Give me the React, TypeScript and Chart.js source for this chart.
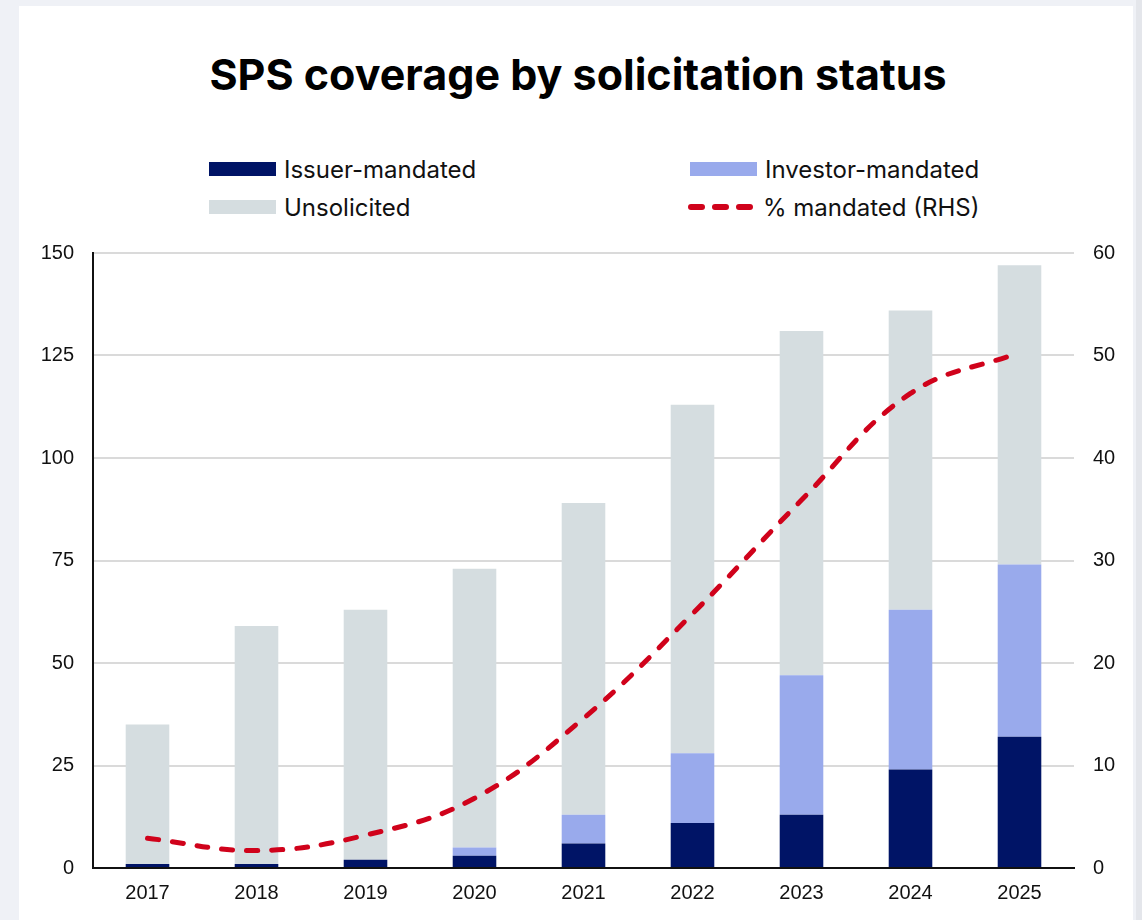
import React, { useEffect, useRef } from "react";
import { Chart, registerables } from "chart.js";

Chart.register(...registerables);

const years = ["2017", "2018", "2019", "2020", "2021", "2022", "2023", "2024", "2025"];
const issuerMandated = [1, 1, 2, 3, 6, 11, 13, 24, 32];
const investorMandated = [0, 0, 0, 2, 7, 17, 34, 39, 42];
const unsolicited = [34, 58, 61, 68, 76, 85, 84, 73, 73];
const pctMandated = [2.9, 1.7, 3.2, 6.8, 14.6, 24.8, 35.9, 46.3, 50.3];

const leftAxis = { min: 0, max: 150, step: 25 };
const rightAxis = { min: 0, max: 60, step: 10 };

const titleText = "SPS coverage by solicitation status";
const labels = {
  issuer: "Issuer-mandated",
  investor: "Investor-mandated",
  unsolicited: "Unsolicited",
  pct: "% mandated (RHS)",
};

const COLORS = {
  issuer: "#001466",
  investor: "#99aaec",
  unsolicited: "#d5dde0",
  line: "#d0021b",
  grid: "#dadada",
  axis: "#111111",
  text: "#111111",
};

const TICK_FONT = { family: "'Liberation Sans', Arial, sans-serif", size: 20 };

export default function App() {
  const canvasRef = useRef<HTMLCanvasElement | null>(null);

  useEffect(() => {
    const canvas = canvasRef.current;
    if (!canvas) return;
    const chart = new Chart(canvas, {
      type: "bar",
      data: {
        labels: years,
        datasets: [
          {
            type: "line",
            label: labels.pct,
            data: pctMandated,
            yAxisID: "y1",
            borderColor: COLORS.line,
            backgroundColor: COLORS.line,
            borderWidth: 5,
            borderDash: [11, 14],
            borderCapStyle: "round",
            pointRadius: 0,
            tension: 0.4,
            fill: false,
            order: 0,
          } as any,
          {
            label: labels.issuer,
            data: issuerMandated,
            backgroundColor: COLORS.issuer,
            stack: "s",
            yAxisID: "y",
            order: 1,
          },
          {
            label: labels.investor,
            data: investorMandated,
            backgroundColor: COLORS.investor,
            stack: "s",
            yAxisID: "y",
            order: 1,
          },
          {
            label: labels.unsolicited,
            data: unsolicited,
            backgroundColor: COLORS.unsolicited,
            stack: "s",
            yAxisID: "y",
            order: 1,
          },
        ],
      },
      options: {
        responsive: true,
        maintainAspectRatio: false,
        animation: false,
        layout: { padding: { top: 0, left: 0, right: 0, bottom: 0 } },
        datasets: {
          bar: { categoryPercentage: 0.8, barPercentage: 0.5 },
        },
        plugins: {
          legend: { display: false },
          title: { display: false },
          tooltip: { enabled: false },
        },
        scales: {
          x: {
            stacked: true,
            grid: { display: false, drawTicks: false },
            border: { display: true, color: COLORS.axis, width: 2 },
            ticks: { color: COLORS.text, font: TICK_FONT, padding: 13 },
            afterFit: (s: any) => {
              s.height = 52;
            },
          },
          y: {
            stacked: true,
            position: "left",
            min: leftAxis.min,
            max: leftAxis.max,
            grid: { color: COLORS.grid, lineWidth: 2, drawTicks: false },
            border: { display: true, color: COLORS.axis, width: 2 },
            ticks: { stepSize: leftAxis.step, color: COLORS.text, font: TICK_FONT, padding: 19 },
            afterFit: (s: any) => {
              s.width = 74;
            },
          },
          y1: {
            position: "right",
            min: rightAxis.min,
            max: rightAxis.max,
            grid: { display: false, drawTicks: false },
            border: { display: false },
            ticks: { stepSize: rightAxis.step, color: COLORS.text, font: TICK_FONT, padding: 19 },
            afterFit: (s: any) => {
              s.width = 59;
            },
          },
        },
      } as any,
    });
    return () => chart.destroy();
  }, []);

  const legendText: React.CSSProperties = {
    fontFamily: "Inter, 'Noto Sans', sans-serif",
    fontSize: 24,
    color: COLORS.text,
    whiteSpace: "nowrap",
  };

  const item = (left: number, top: number, swatch: React.ReactNode, text: string) => (
    <div
      style={{
        position: "absolute",
        left,
        top,
        height: 30,
        display: "flex",
        alignItems: "center",
      }}
    >
      {swatch}
      <span style={{ ...legendText, marginLeft: 8 }}>{text}</span>
    </div>
  );

  const box = (color: string) => (
    <div style={{ width: 67, height: 14, background: color }} />
  );

  const dashSwatch = (
    <svg width={67} height={14} style={{ display: "block" }}>
      <line
        x1={3}
        y1={7}
        x2={64}
        y2={7}
        stroke={COLORS.line}
        strokeWidth={6}
        strokeLinecap="round"
        strokeDasharray="11 13"
      />
    </svg>
  );

  return (
    <div style={{ position: "fixed", inset: 0, background: "#eff1f6", overflow: "hidden" }}>
      <div style={{ position: "absolute", left: 1136, top: 0, width: 6, height: 920, background: "#e4e6eb" }} />
      <div
        style={{
          position: "absolute",
          left: 19,
          top: 6,
          width: 1114,
          height: 1000,
          background: "#ffffff",
        }}
      />
      <div
        style={{
          position: "absolute",
          left: 21,
          top: 47,
          width: 1114,
          textAlign: "center",
          fontFamily: "Inter, 'Noto Sans', sans-serif",
          fontWeight: 700,
          fontSize: 43,
          lineHeight: "54px",
          color: "#000",
        }}
      >
        {titleText}
      </div>
      {item(209, 154, box(COLORS.issuer), labels.issuer)}
      {item(690, 154, box(COLORS.investor), labels.investor)}
      {item(209, 192, box(COLORS.unsolicited), labels.unsolicited)}
      {item(688, 192, dashSwatch, labels.pct)}
      <div style={{ position: "absolute", left: 19, top: 222, width: 1114, height: 698 }}>
        <canvas ref={canvasRef} />
      </div>
    </div>
  );
}
